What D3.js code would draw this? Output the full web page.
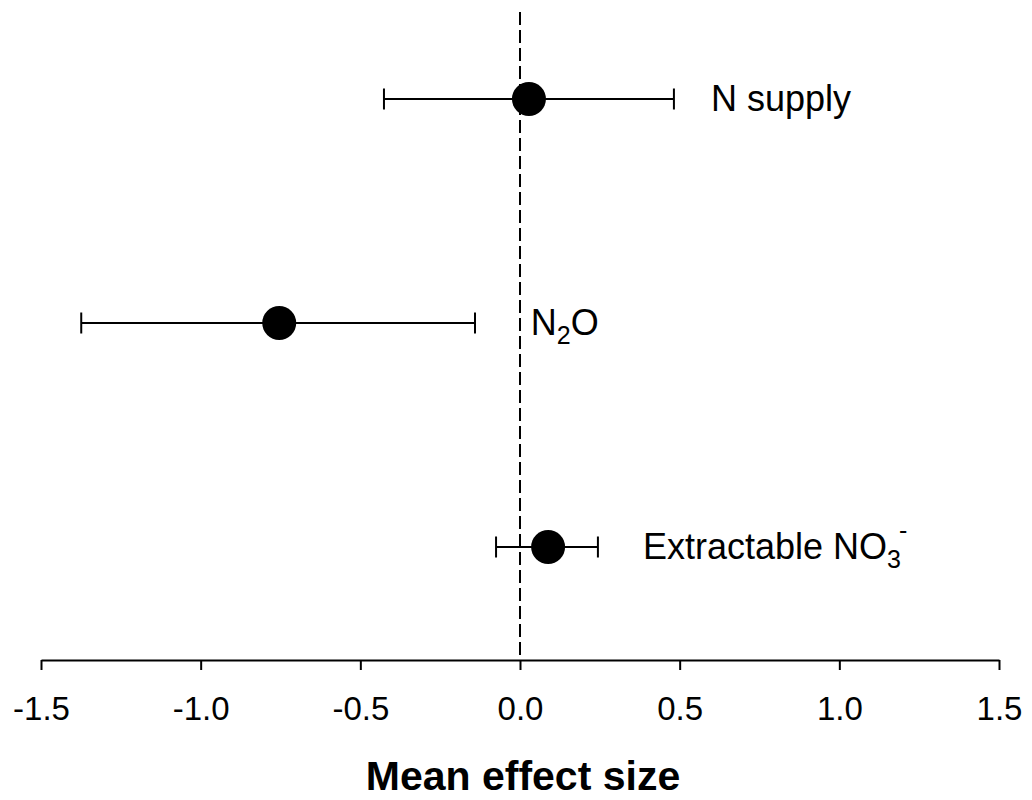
<!DOCTYPE html>
<html><head><meta charset="utf-8">
<script src="https://cdn.jsdelivr.net/npm/d3@7"></script>
<style>body{margin:0;background:#fff}svg{display:block}text{font-family:"Liberation Sans",Arial,sans-serif}</style>
</head><body><svg id="c" width="1032" height="800"></svg>
<script>
const categories = ["N supply", "N2O", "Extractable NO3-"];
const means = [0.028, -0.754, 0.088];
const lowerCI = [-0.426, -1.374, -0.075];
const upperCI = [0.482, -0.141, 0.244];
const labelX = [0.598, 0.034, 0.385];
const xTicks = [-1.5, -1.0, -0.5, 0.0, 0.5, 1.0, 1.5];

const svg = d3.select("#c");
const W = 1032, H = 800;
const m = {left: 41, right: 33, top: 12, bottom: 140};
const x = d3.scaleLinear().domain([-1.5, 1.5]).range([m.left, W - m.right]);
const plotBottom = H - m.bottom;
const y = d3.scalePoint().domain(categories).range([99, 547]);

const data = categories.map((c, i) => ({c, mean: means[i], lo: lowerCI[i], hi: upperCI[i], lx: labelX[i]}));

// dashed zero line
svg.append("line").attr("x1", x(0)).attr("x2", x(0)).attr("y1", m.top).attr("y2", plotBottom)
  .attr("stroke", "#000").attr("stroke-width", 2).attr("stroke-dasharray", "13,5");

// axis
const ax = svg.append("g").attr("transform", `translate(0,${plotBottom})`)
  .call(d3.axisBottom(x).tickValues(xTicks).tickFormat(d => d.toFixed(1)).tickSize(10).tickSizeOuter(0));
ax.select(".domain").attr("stroke-width", 2);
ax.selectAll(".tick line").attr("stroke-width", 2);
ax.selectAll(".tick text").attr("font-size", 33).attr("dy", "1.42em").attr("fill", "#000")
  .style("font-family", "'Liberation Sans', Arial, sans-serif");

// error bars
const g = svg.append("g");
data.forEach(d => {
  const yy = y(d.c);
  g.append("line").attr("x1", x(d.lo)).attr("x2", x(d.hi)).attr("y1", yy).attr("y2", yy).attr("stroke", "#000").attr("stroke-width", 2);
  [d.lo, d.hi].forEach(v => g.append("line").attr("x1", x(v)).attr("x2", x(v)).attr("y1", yy - 10.5).attr("y2", yy + 10.5).attr("stroke", "#000").attr("stroke-width", 2));
  g.append("circle").attr("cx", x(d.mean)).attr("cy", yy).attr("r", 17).attr("fill", "#000");
});

// labels
function label(d) {
  const t = svg.append("text").attr("x", x(d.lx)).attr("y", y(d.c) + 12).attr("font-size", 36).attr("fill", "#000");
  if (d.c === "N2O") {
    t.append("tspan").text("N");
    t.append("tspan").text("2").attr("font-size", 25).attr("dy", 9);
    t.append("tspan").text("O").attr("dy", -9);
  } else if (d.c === "Extractable NO3-") {
    t.append("tspan").text("Extractable NO");
    t.append("tspan").text("3").attr("font-size", 25).attr("dy", 9);
    t.append("tspan").text("-").attr("font-size", 25).attr("dy", -29).attr("dx", -2);
  } else {
    t.text(d.c);
  }
}
data.forEach(label);

svg.append("text").attr("x", x(0) + 3).attr("y", 790).attr("text-anchor", "middle")
  .attr("font-size", 41).attr("font-weight", "bold").attr("fill", "#000").text("Mean effect size");
</script></body></html>
